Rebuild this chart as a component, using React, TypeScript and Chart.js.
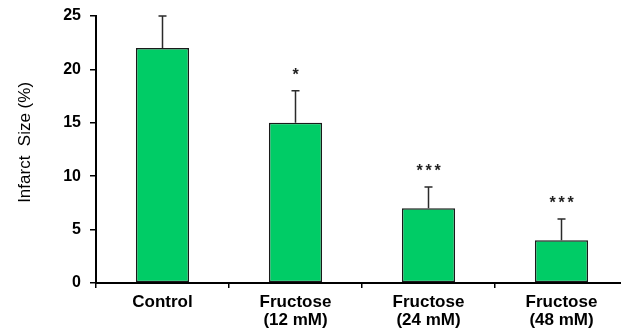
import React, { useEffect, useRef } from "react";
import { Chart, registerables } from "chart.js";

Chart.register(...registerables);

const categories: (string | string[])[] = [
  "Control",
  ["Fructose", "(12 mM)"],
  ["Fructose", "(24 mM)"],
  ["Fructose", "(48 mM)"],
];
const infarctSize = [22, 15, 7, 4];
const errorUpper = [3, 3, 2, 2];
const significance = ["", "*", "***", "***"];
const yTicks = [0, 5, 10, 15, 20, 25];

const FONT = "'Liberation Sans', Arial, sans-serif";

const errorBarPlugin = {
  id: "errorBars",
  afterDatasetsDraw(chart: any) {
    const ctx = chart.ctx;
    const meta = chart.getDatasetMeta(0);
    const yScale = chart.scales.y;
    ctx.save();
    meta.data.forEach((bar: any, i: number) => {
      const x = bar.x;
      const yTop = yScale.getPixelForValue(infarctSize[i] + errorUpper[i]);
      const yBase = yScale.getPixelForValue(infarctSize[i]);
      ctx.strokeStyle = "#2a2a2a";
      ctx.lineWidth = 1.5;
      ctx.beginPath();
      ctx.moveTo(x, yBase);
      ctx.lineTo(x, yTop);
      ctx.moveTo(x - 4, yTop);
      ctx.lineTo(x + 4, yTop);
      ctx.stroke();
      const s = significance[i];
      if (s) {
        ctx.fillStyle = "#222";
        ctx.font = `bold 16px ${FONT}`;
        ctx.textAlign = "center";
        ctx.textBaseline = "alphabetic";
        const n = s.length;
        const gap = 9;
        for (let k = 0; k < n; k++) {
          const cx = x + (k - (n - 1) / 2) * gap;
          ctx.fillText("*", cx, yTop - 20 + 9);
        }
      }
    });
    ctx.restore();
  },
};

export default function App() {
  const ref = useRef<HTMLCanvasElement | null>(null);
  useEffect(() => {
    document.body.style.margin = "0";
    const canvas = ref.current;
    if (!canvas) return;
    const chart = new Chart(canvas, {
      type: "bar",
      data: {
        labels: categories,
        datasets: [
          {
            data: infarctSize,
            backgroundColor: "#00CC66",
            borderColor: "#1a1a1a",
            borderWidth: 1.5,
            borderSkipped: false,
            barPercentage: 0.4,
            categoryPercentage: 1,
          },
        ],
      },
      options: {
        responsive: false,
        animation: false,
        layout: { padding: { top: 16, right: 12, left: 0, bottom: 0 } },
        plugins: {
          legend: { display: false },
          tooltip: { enabled: false },
        },
        scales: {
          x: {
            offset: true,
            grid: {
              offset: true,
              drawOnChartArea: false,
              drawTicks: true,
              tickLength: 5,
              color: "#000",
              lineWidth: 1.5,
            },
            border: { color: "#000", width: 2 },
            ticks: {
              color: "#000",
              font: { family: FONT, size: 17, weight: "bold", lineHeight: 1.08 },
              padding: 5,
              maxRotation: 0,
              autoSkip: false,
            },
            afterFit: (s: any) => {
              s.height = 53;
              s.paddingLeft = 0;
              s.paddingRight = 0;
            },
          },
          y: {
            min: 0,
            max: 25,
            afterBuildTicks: (s: any) => {
              s.ticks = yTicks.map((v) => ({ value: v }));
            },
            grid: {
              drawOnChartArea: false,
              drawTicks: true,
              tickLength: 6,
              color: "#000",
              lineWidth: 1.5,
            },
            border: { color: "#000", width: 2 },
            ticks: {
              color: "#000",
              font: { family: FONT, size: 16, weight: "bold" },
              padding: 9,
            },
            title: {
              display: true,
              text: "   Infarct  Size (%)",
              color: "#000",
              font: { family: FONT, size: 17, weight: "normal" },
              padding: { top: 15, bottom: 0 },
            },
            afterFit: (s: any) => {
              s.width = 96;
              s.paddingTop = 0;
              s.paddingBottom = 0;
            },
          },
        },
      },
      plugins: [errorBarPlugin],
    });
    return () => chart.destroy();
  }, []);
  return (
    <div style={{ width: 621, height: 336, overflow: "hidden", position: "relative" }}>
      <canvas ref={ref} width={640} height={336} style={{ width: 640, height: 336, display: "block" }} />
    </div>
  );
}
